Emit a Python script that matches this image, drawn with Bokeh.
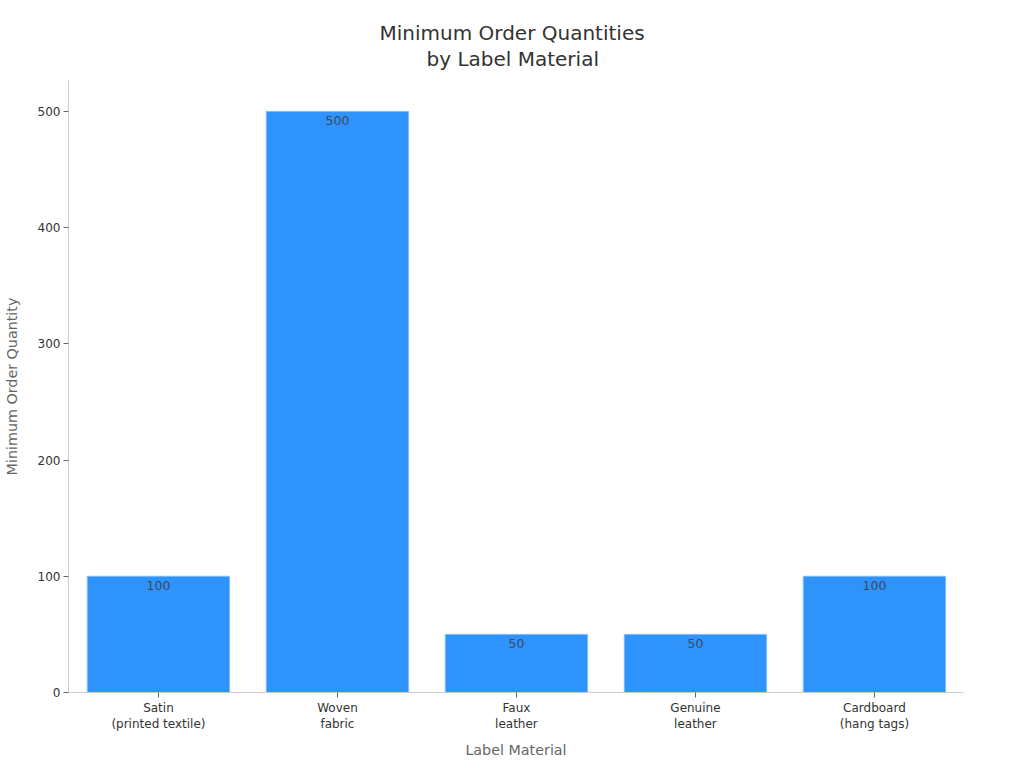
from bokeh.plotting import figure
from bokeh.embed import file_html
from bokeh.resources import INLINE
from bokeh.models import ColumnDataSource, FixedTicker, Range1d, Title
from bokeh.core.properties import value

categories = ["Satin\n(printed textile)", "Woven\nfabric", "Faux\nleather", "Genuine\nleather", "Cardboard\n(hang tags)"]
quantities = [100, 500, 50, 50, 100]
y_ticks = [0, 100, 200, 300, 400, 500]
FONT = "DejaVu Sans"

xs = list(range(len(categories)))
src = ColumnDataSource(dict(x=xs, top=quantities, label=[str(q) for q in quantities]))

p = figure(width=1008, height=768, output_backend="svg", toolbar_location=None,
           x_range=Range1d(-0.5025, 4.4975), y_range=Range1d(0, 526.6),
           min_border_left=68, min_border_right=45, min_border_top=80, min_border_bottom=76)
p.vbar(x="x", top="top", bottom=0, width=0.795, source=src, fill_color="#2e93fa", line_color="#7fbcf5", line_width=1)
p.text(x="x", y="top", text="label", source=src, text_align="center", text_baseline="top", y_offset=5,
       text_font=value(FONT), text_font_size="12.5px", text_color="#3d4a5c")

p.grid.visible = False
p.outline_line_color = None
p.xaxis.ticker = FixedTicker(ticks=xs)
p.xaxis.major_label_overrides = {i: c for i, c in enumerate(categories)}
p.yaxis.ticker = FixedTicker(ticks=y_ticks)
p.xaxis.axis_label = "Label Material"
p.yaxis.axis_label = "Minimum Order Quantity"
for ax in (p.xaxis[0], p.yaxis[0]):
    ax.axis_label_text_font = FONT
    ax.axis_label_text_font_size = "14.3px"
    ax.axis_label_text_font_style = "normal"
    ax.axis_label_text_color = "#666666"
    ax.major_label_text_font = FONT
    ax.major_label_text_font_size = "12px"
    ax.major_label_text_color = "#333333"
    ax.minor_tick_line_color = None
    ax.axis_line_color = "#cccccc"
    ax.major_tick_line_color = "#666666"
    ax.major_tick_out = 5
    ax.major_tick_in = 0
p.xaxis.major_label_standoff = 3
p.xaxis.axis_label_standoff = 8
p.yaxis.major_label_standoff = 3
p.yaxis.axis_label_standoff = 15

for line, off, gap in [("by Label Material", 358, 19), ("Minimum Order Quantities", 311, -19)]:
    p.add_layout(Title(text=line, align="left", offset=off, standoff=gap,
                       text_font=FONT, text_font_size="20px",
                       text_font_style="normal", text_color="#333333"), "above")

open("out.html", "w").write(file_html(p, INLINE))
